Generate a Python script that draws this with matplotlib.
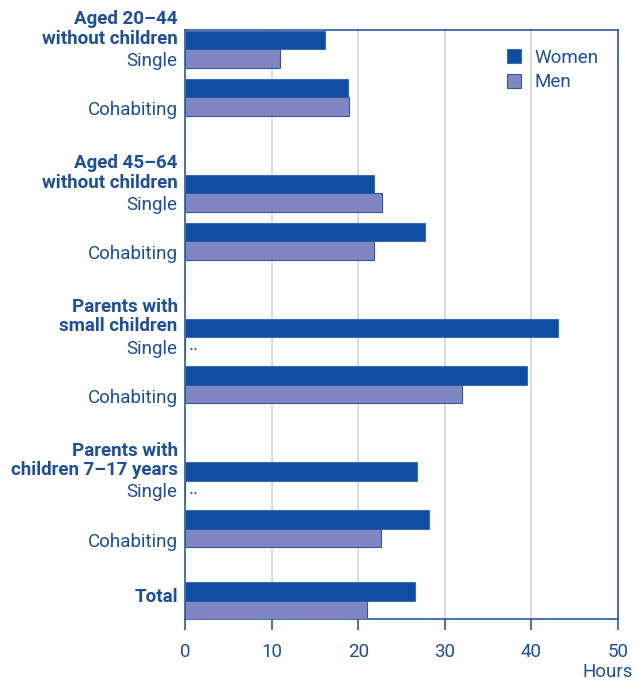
import numpy as np
import matplotlib.pyplot as plt

plt.rcParams['font.family'] = ['Roboto', 'DejaVu Sans']

# hours per week, NaN = no data
groups = ['Aged 20\u201344\nwithout children', 'Aged 45\u201364\nwithout children',
          'Parents with\nsmall children', 'Parents with\nchildren 7\u201317 years']
rows = ['Single', 'Cohabiting']
women = [16.2, 18.8, 21.8, 27.7, 43.1, 39.5, 26.8, 28.2]
men = [11.0, 18.9, 22.8, 21.8, np.nan, 32.0, np.nan, 22.6]
total_women = 26.6
total_men = 21.0

blue = '#0e4d9f'
lilac = '#7f86c2'
txt = '#1d4f9b'
fs = 13.5

# slot positions top to bottom
pos = []
for g in range(len(groups)):
    pos += [3 * g, 3 * g + 1]
total_pos = pos[-1] + 1.5

fig = plt.figure(figsize=(6.37, 6.8), dpi=100)
ax = fig.add_axes([185 / 637, 61 / 680, 433 / 637, 589 / 680])

h = 0.385
all_pos = np.array(pos + [total_pos])
w_vals = women + [total_women]
m_vals = men + [total_men]
ax.barh(all_pos - h / 2, w_vals, height=h, color=blue, edgecolor='#3f6db3',
        linewidth=0.8, zorder=3)
m_plot = [0 if np.isnan(v) else v for v in m_vals]
ax.barh(all_pos + h / 2, m_plot, height=h, color=lilac, edgecolor='#2a5aa8',
        linewidth=0.8, zorder=3)

# missing values
for p, v in zip(all_pos, m_vals):
    if np.isnan(v):
        ax.text(0.4, p + h / 2 - 0.02, '..', color=txt, fontsize=fs,
                ha='left', va='center')

ax.set_xlim(0, 50)
ax.set_ylim(total_pos + 0.38, -0.4)
ax.set_xticks(range(0, 51, 10))
ax.set_yticks([])
ax.grid(axis='x', color='#d4d4d4', linewidth=1.2, zorder=0)
for s in ax.spines.values():
    s.set_color('#2a5aa8')
    s.set_linewidth(1.2)
ax.tick_params(axis='x', colors='#2a5aa8', length=8, width=1.2,
               labelcolor=txt, labelsize=fs, pad=9)

trans = ax.get_yaxis_transform()
lx = -0.017
for g, name in enumerate(groups):
    p1, p2 = 3 * g, 3 * g + 1
    ax.text(lx, p1 - h / 2 - 0.23, name, transform=trans, ha='right',
            va='center', fontsize=fs, fontweight='bold', color=txt,
            linespacing=1.1)
    ax.text(lx, p1 + h / 2 + 0.05, rows[0], transform=trans, ha='right',
            va='center', fontsize=fs, color=txt)
    ax.text(lx, p2 + h / 2 + 0.08, rows[1], transform=trans, ha='right',
            va='center', fontsize=fs, color=txt)
ax.text(lx, total_pos - 0.08, 'Total', transform=trans, ha='right',
        va='center', fontsize=fs, fontweight='bold', color=txt)

fig.text(633 / 637, 1 - 672 / 680, 'Hours', ha='right', va='center',
         fontsize=fs, color=txt)

ax.legend(['Women', 'Men'], loc='upper right', bbox_to_anchor=(0.995, 0.997),
          frameon=False, fontsize=fs, labelcolor=txt, handlelength=0.75,
          handleheight=0.75, handletextpad=0.75, labelspacing=0.35)

fig.savefig('out.png', dpi=100)
